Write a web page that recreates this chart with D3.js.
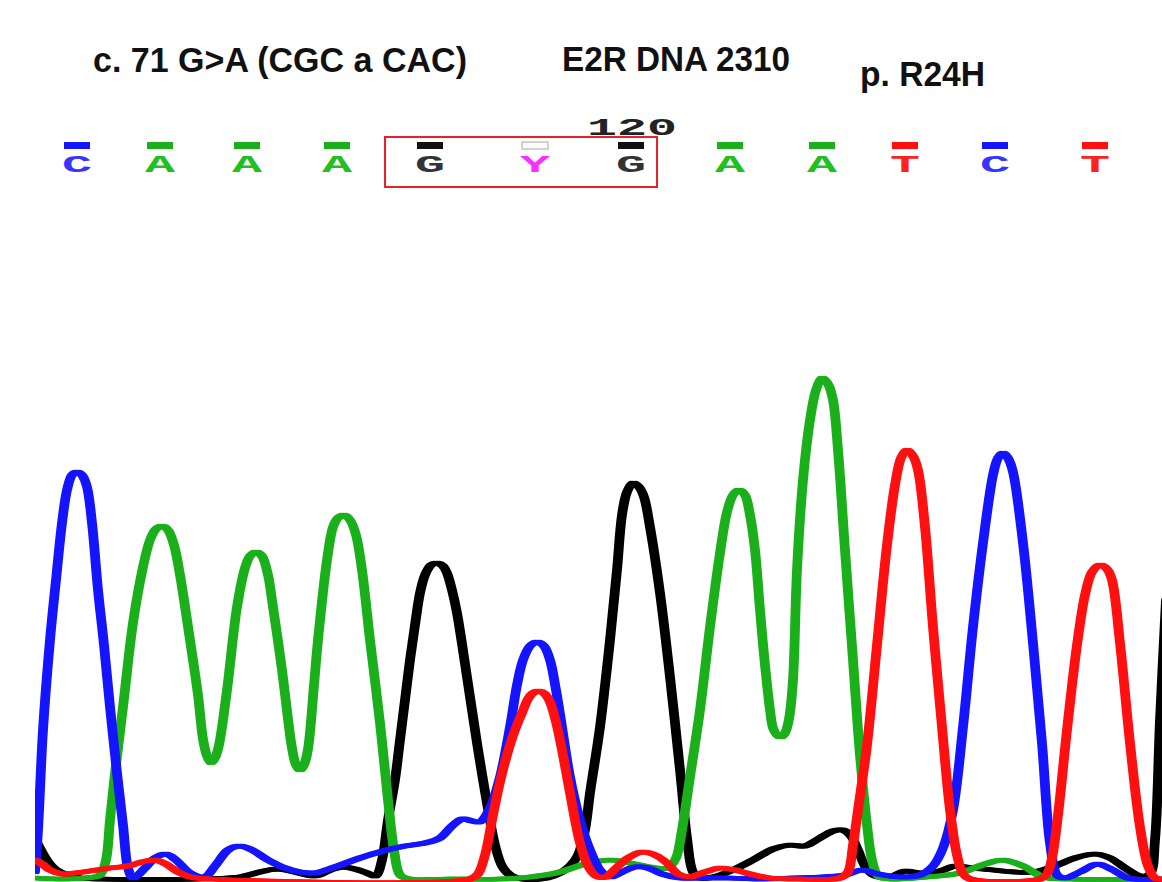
<!DOCTYPE html>
<html>
<head>
<meta charset="utf-8">
<script src="https://cdn.jsdelivr.net/npm/d3@7"></script>
<style>
  html, body { margin: 0; padding: 0; background: #ffffff; }
  svg { display: block; }
</style>
</head>
<body>
<div id="chart"></div>
<script>
// ---- Sequencing trace data (scan number, signal intensity) ----
const traceC = [ // blue channel
  [0,16],[3,100],[8,300],[15,480],[21,600],[27,714],[32,780],[37,810],[42,816],[47,810],[52,786],[57,714],[63,580],[69,470],[75,346],[82,214],[88,110],[93,24],[98,4],
  [110,24],[120,44],[131,52],[141,40],[155,14],[170,6],[180,28],[193,60],[205,68],[217,60],[233,40],[250,24],[265,16],[280,14],[300,26],[325,44],[348,58],[370,68],[390,74],[405,84],[417,108],[427,122],[437,118],[445,116],[455,144],
  [465,206],[475,306],[482,390],[488,440],[495,468],[502,476],[509,468],[515,440],[521,380],[527,306],[535,206],[545,120],[555,60],[565,20],[575,6],
  [587,16],[600,26],[613,24],[627,12],[645,4],[665,4],[695,4],[725,2],[755,4],[785,6],[810,10],[827,20],[843,12],[865,6],[885,10],[898,28],
  [908,64],[918,140],[928,306],[938,506],[948,674],[958,810],[963,844],[968,854],[973,844],[978,816],[988,674],[998,474],[1007,274],[1015,74],[1022,10],
  [1030,4],[1045,16],[1062,32],[1078,20],[1093,4],[1127,2]
];
const traceA = [ // green channel
  [0,4],[25,2],[50,4],[65,10],[71,40],[75,120],[80,214],[88,346],[98,514],[108,626],[115,680],[121,702],[127,708],[133,700],[139,670],[145,610],[155,480],[163,370],
  [168,282],[172,248],[176,234],[180,244],[184,270],
  [192,380],[202,546],[210,624],[215,648],[221,656],[227,648],[233,610],[237,560],[247,420],[253,322],
  [257,264],[261,230],[265,220],[269,230],[273,262],
  [279,390],[283,480],[292,640],[298,706],[303,724],[309,730],[315,720],[321,690],[327,620],[335,480],[345,314],[353,160],[359,60],[365,10],[375,2],
  [415,2],[465,2],[495,6],[525,16],[550,32],[575,40],[595,34],[615,26],[633,24],
  [641,44],[647,100],[655,206],[665,340],[675,506],[685,654],[692,736],[698,770],[704,780],[710,770],[715,730],[720,660],[725,540],[730,430],[735,340],
  [738,304],[742,290],[746,286],[750,294],[754,322],
  [758,400],[762,620],[768,800],[775,920],[781,980],[787,1004],[793,992],[798,960],[803,860],[810,660],[818,440],[825,250],[832,110],[837,40],[843,8],
  [855,2],[892,6],[925,14],[950,32],[968,40],[988,28],[1008,6],[1035,2],[1127,2]
];
const traceG = [ // black channel
  [0,84],[5,64],[12,40],[20,22],[30,12],[45,4],[65,2],[165,2],[205,6],[225,16],[242,22],[260,16],[280,8],[295,20],[308,26],[320,22],[332,14],[341,8],
  [347,40],[353,120],[360,200],[365,280],[370,360],[375,440],[380,510],[385,574],[390,610],[396,630],[402,634],[408,628],[412,614],[417,580],[422,534],[432,406],[442,274],[452,154],[460,70],[467,28],[475,10],[487,2],
  [512,4],[525,14],[535,28],[543,50],[550,100],[555,174],[565,306],[575,480],[582,620],[587,730],[592,776],[598,794],[604,786],[609,766],[615,706],[625,574],[635,406],[645,220],[652,84],[658,16],[665,4],
  [678,6],[698,20],[718,40],[738,62],[755,70],[770,68],[785,84],[798,98],[808,100],[816,88],[823,60],[831,24],[840,8],
  [855,6],[870,18],[885,14],[905,18],[920,28],[937,24],[958,20],[980,16],[1000,16],[1020,28],[1040,44],[1060,52],[1075,44],[1090,24],[1105,8],[1115,12],
  [1120,80],[1125,320],[1131,560]
];
const traceT = [ // red channel
  [0,40],[7,32],[15,20],[27,12],[40,14],[55,18],[75,24],[93,28],[107,36],[120,40],[131,32],[143,16],[155,6],[175,2],[435,2],
  [443,12],[450,50],[458,130],[465,196],[472,250],[480,300],[487,334],[493,362],[498,374],[504,378],[510,372],[515,356],[521,316],[527,260],[535,174],[545,74],[553,28],[561,8],
  [571,6],[580,22],[593,44],[607,56],[620,50],[632,34],[643,12],[655,6],[670,16],[685,24],[700,20],[715,12],[735,4],[765,2],[805,4],
  [813,16],[818,70],[823,140],[832,270],[842,470],[852,670],[860,790],[866,844],[872,860],[878,848],[883,820],[890,706],[898,506],[907,306],[915,140],[922,50],[928,12],[935,2],
  [1005,2],[1012,12],[1017,44],[1023,130],[1032,300],[1042,470],[1050,570],[1057,616],[1065,630],[1072,622],[1077,600],[1085,474],[1095,274],[1105,106],[1113,28],[1120,4],[1127,2]
];

// ---- Base calls ----
const baseCalls = ["C","A","A","A","G","Y","G","A","A","T","C","T"];
const baseScans = [42, 125, 212, 302, 395, 500, 596, 695, 787, 870, 960, 1060];
const positionLabel = "120";
const positionIndex = 6;          // base carrying the position number
const boxedFrom = 4, boxedTo = 6; // highlighted codon

// ---- Header texts ----
const titleTexts = ["c. 71 G>A (CGC a CAC)", "E2R DNA 2310", "p. R24H"];

// ---- Styling ----
const W = 1162, H = 882;
const channelColor = { G: "#000000", A: "#1bb01b", T: "#ff1010", C: "#1414ff" };
const letterColor = { G: "#333333", A: "#22bf22", T: "#ff2020", C: "#3535ff", Y: "#ff2cff" };

const svg = d3.select("#chart").append("svg")
  .attr("width", W).attr("height", H)
  .attr("viewBox", `0 0 ${W} ${H}`);

svg.append("rect").attr("width", W).attr("height", H).attr("fill", "#ffffff");

const x = d3.scaleLinear().domain([0, 1127]).range([35, 1162]);
const y = d3.scaleLinear().domain([0, 1100]).range([880, 330]);

// ---- Header ----
const titleLayout = [
  { x: 93,  y: 72, len: 374 },
  { x: 562, y: 71, len: 228 },
  { x: 860, y: 86, len: 125 }
];
svg.append("g").selectAll("text").data(titleTexts).join("text")
  .attr("x", (d, i) => titleLayout[i].x)
  .attr("y", (d, i) => titleLayout[i].y)
  .attr("textLength", (d, i) => titleLayout[i].len)
  .attr("lengthAdjust", "spacingAndGlyphs")
  .attr("font-family", "'Liberation Sans', Arial, sans-serif")
  .attr("font-weight", "bold")
  .attr("font-size", 35)
  .attr("fill", "#111")
  .text(d => d);

// ---- Base call row ----
const calls = svg.append("g");
const barW = 26, barH = 7, barY = 142;

calls.selectAll("rect.bar").data(baseCalls).join("rect")
  .attr("class", "bar")
  .attr("x", (d, i) => x(baseScans[i]) - barW / 2)
  .attr("y", barY)
  .attr("width", barW)
  .attr("height", barH)
  .attr("fill", d => d === "Y" ? "#fbfbfb" : channelColor[d] === "#000000" ? "#111" : channelColor[d])
  .attr("stroke", d => d === "Y" ? "#c4c4c4" : "none")
  .attr("stroke-width", 1.5);

calls.selectAll("text.base").data(baseCalls).join("text")
  .attr("class", "base")
  .attr("x", (d, i) => x(baseScans[i]) - 15)
  .attr("y", 172)
  .attr("textLength", 30)
  .attr("lengthAdjust", "spacingAndGlyphs")
  .attr("font-family", "'Liberation Mono', 'DejaVu Sans Mono', monospace")
  .attr("font-weight", "bold")
  .attr("font-size", 24)
  .attr("fill", d => letterColor[d])
  .text(d => d);

calls.append("text")
  .attr("x", x(baseScans[positionIndex]) - 44)
  .attr("y", 135)
  .attr("textLength", 90)
  .attr("lengthAdjust", "spacingAndGlyphs")
  .attr("font-family", "'Liberation Mono', 'DejaVu Sans Mono', monospace")
  .attr("font-weight", "bold")
  .attr("font-size", 23)
  .attr("fill", "#222")
  .text(positionLabel);

calls.append("rect")
  .attr("x", x(baseScans[boxedFrom]) - 45)
  .attr("y", 137)
  .attr("width", x(baseScans[boxedTo]) + 26 - (x(baseScans[boxedFrom]) - 45))
  .attr("height", 50)
  .attr("fill", "none")
  .attr("stroke", "#e8202a")
  .attr("stroke-width", 2);

// ---- Traces ----
svg.append("clipPath").attr("id", "plot-clip")
  .append("rect").attr("x", 35).attr("y", 300).attr("width", W - 35).attr("height", 582);

const line = d3.line()
  .x(d => x(d[0]))
  .y(d => y(d[1]))
  .curve(d3.curveCatmullRom.alpha(0.5));

const traces = [
  { key: "G", data: traceG },
  { key: "A", data: traceA },
  { key: "C", data: traceC },
  { key: "T", data: traceT }
];

const plot = svg.append("g").attr("clip-path", "url(#plot-clip)");
// a flat, wide pen: each trace is stroked at three small horizontal offsets
const penOffsets = [-2.6, 0, 2.6];
traces.forEach(t => {
  const g = plot.append("g");
  penOffsets.forEach(o => {
    g.append("path")
      .datum(t.data)
      .attr("transform", `translate(${o},0)`)
      .attr("d", line)
      .attr("fill", "none")
      .attr("stroke", channelColor[t.key])
      .attr("stroke-width", 4.6)
      .attr("stroke-linejoin", "round")
      .attr("stroke-linecap", "round");
  });
});
</script>
</body>
</html>
